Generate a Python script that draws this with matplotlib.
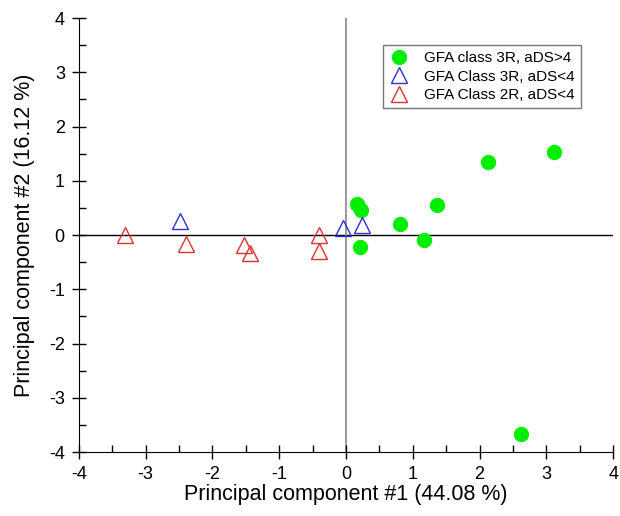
import matplotlib.pyplot as plt
from matplotlib.ticker import MultipleLocator

plt.rcParams['font.family'] = ['Liberation Sans', 'DejaVu Sans']
plt.rcParams['axes.unicode_minus'] = False

# GFA class 3R, aDS>4
green_x = [3.12, 2.13, 0.16, 0.22, 1.36, 0.81, 1.17, 0.21, 2.62]
green_y = [1.54, 1.35, 0.57, 0.46, 0.55, 0.20, -0.10, -0.22, -3.67]
# GFA Class 3R, aDS<4
blue_x = [-2.49, -0.04, 0.24]
blue_y = [0.26, 0.13, 0.19]
# GFA Class 2R, aDS<4
red_x = [-3.31, -2.40, -1.53, -1.44, -0.40, -0.40]
red_y = [0.0, -0.17, -0.19, -0.33, 0.0, -0.30]

fig = plt.figure(figsize=(6.2, 5.16), dpi=100)
ax = fig.add_axes([0.127, 0.124, 0.862, 0.841])

ax.axhline(0, color='black', lw=1, zorder=1)
ax.axvline(0, color='#888888', lw=1.2, zorder=1)

ax.plot(green_x, green_y, 'o', color='#00ee00', ms=10, mec='#00ee00',
        label='GFA class 3R, aDS>4', zorder=3)
ax.plot(blue_x, blue_y, '^', mfc='none', mec='#3030d8', ms=12, mew=1,
        label='GFA Class 3R, aDS<4', zorder=3)
ax.plot(red_x, red_y, '^', mfc='none', mec='#e03030', ms=12, mew=1,
        label='GFA Class 2R, aDS<4', zorder=3)

ax.set_xlim(-4, 4)
ax.set_ylim(-4, 4)
ax.xaxis.set_major_locator(MultipleLocator(1))
ax.yaxis.set_major_locator(MultipleLocator(1))
ax.xaxis.set_minor_locator(MultipleLocator(0.5))
ax.yaxis.set_minor_locator(MultipleLocator(0.5))
ax.tick_params(which='major', direction='inout', length=10, width=1,
               labelsize=13, pad=5)
ax.tick_params(which='minor', direction='in', length=5, width=1)
ax.spines['top'].set_visible(False)
ax.spines['right'].set_visible(False)

ax.set_xlabel('Principal component #1 (44.08 %)', fontsize=15.5, labelpad=1)
ax.set_ylabel('Principal component #2 (16.12 %)', fontsize=15.5, labelpad=10)

leg = ax.legend(loc='upper right', bbox_to_anchor=(0.939, 0.938), fontsize=11,
                frameon=True, fancybox=False, edgecolor='#555555',
                handletextpad=0.9, borderpad=0.4, labelspacing=0.3,
                handlelength=1.4, borderaxespad=0)
leg.get_frame().set_linewidth(1)

plt.savefig('out.png', dpi=100)
